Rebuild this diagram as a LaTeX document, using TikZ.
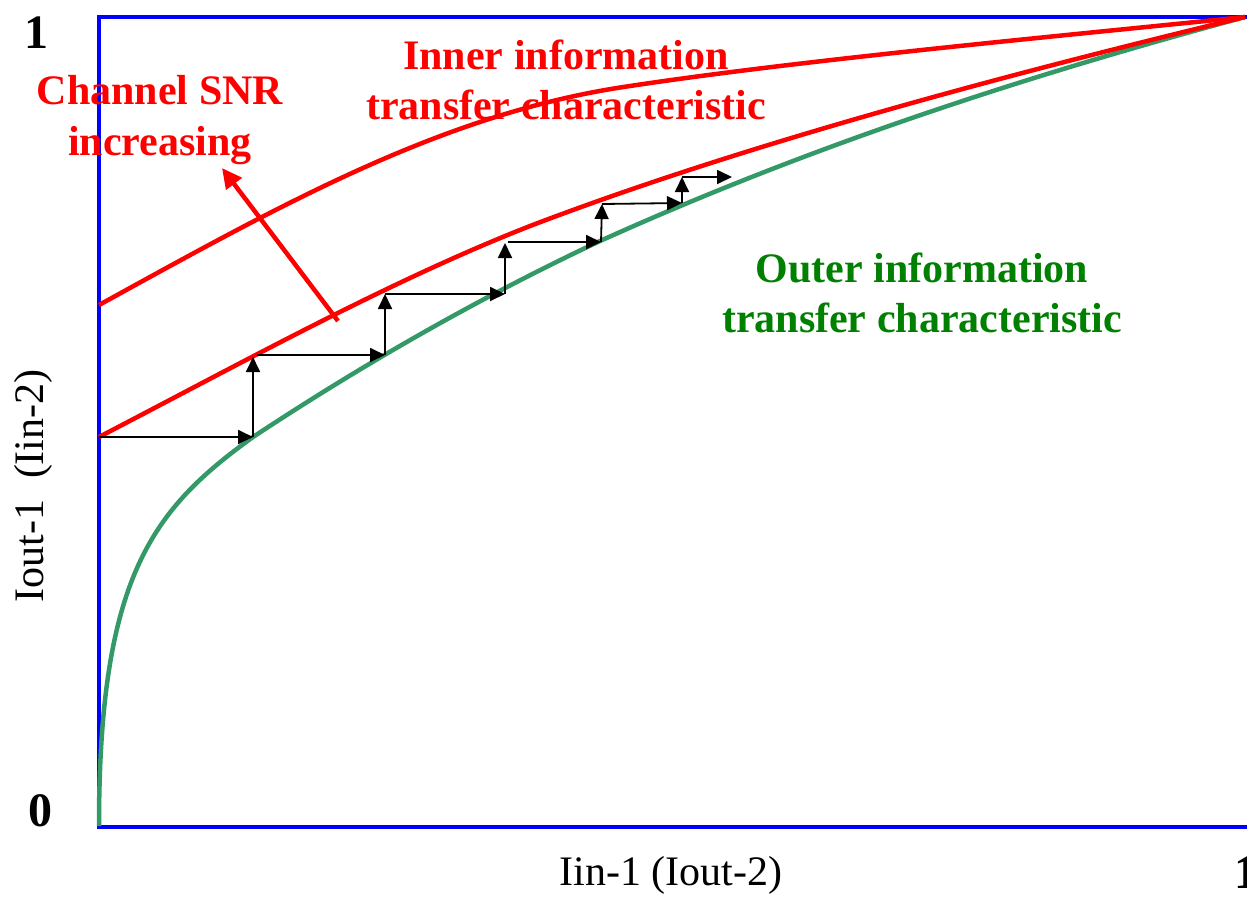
\documentclass[tikz,border=0pt]{standalone}
\usepackage{fontspec}
\setmainfont{Liberation Serif}
\usetikzlibrary{arrows.meta}
\definecolor{exitred}{RGB}{255,0,0}
\definecolor{axisblue}{RGB}{0,0,255}
\definecolor{curvegreen}{RGB}{51,153,102}
\definecolor{textgreen}{RGB}{0,128,0}
\tikzset{
  axisline/.style={draw=axisblue, line width=4.5pt},
  redcurve/.style={draw=exitred, line width=4.5pt},
  greencurve/.style={draw=curvegreen, line width=4.5pt},
  stairarrow/.style={draw=black, line width=1.8pt, -{Triangle[length=15pt,width=14pt]}},
  snrarrow/.style={draw=exitred, line width=4.5pt, -{Triangle[length=20pt,width=19pt]}},
  bigbold/.style={font=\bfseries\fontsize{42}{50}\selectfont, inner sep=0pt, anchor=base},
  digit/.style={font=\bfseries\fontsize{48}{56}\selectfont, inner sep=0pt, anchor=base},
  axislabel/.style={font=\fontsize{42}{48}\selectfont, inner sep=0pt, anchor=base}
}
\begin{document}
\begin{tikzpicture}[x=1pt,y=-1pt]
\useasboundingbox (0,0) rectangle (1247,898);
\fill[white] (0,0) rectangle (1247,898);

% axes box
\draw[axisline] (1250,17) -- (99,17) -- (99,827) -- (1250,827);

% outer (green) characteristic
\draw[greencurve] (99,826) .. controls (99,576) and (153,509) .. (253,437)
                           .. controls (368,361) and (485,295) .. (600,241)
                           .. controls (815,144) and (1030,75) .. (1245,17);
% inner (red) characteristics
\draw[redcurve] (99,437) .. controls (249,359) and (390,281) .. (530,226)
                         .. controls (750,142) and (1025,70) .. (1245,17);
\draw[redcurve] (99,305) .. controls (279,206) and (437,117) .. (617,88)
                         .. controls (790,61) and (1060,36) .. (1245,17);

% SNR arrow
\coordinate (snrA) at (338,321);
\coordinate (snrB) at (222,168);
\draw[snrarrow] (snrA) -- (snrB);

% staircase
\coordinate (p0) at (99,437);
\coordinate (p1) at (253,437);
\coordinate (p2) at (253,357);
\coordinate (p3) at (257,355);
\coordinate (p4) at (385,355);
\coordinate (p5) at (385,294);
\coordinate (p6) at (505,294);
\coordinate (p7) at (505,243);
\coordinate (p8) at (508,242);
\coordinate (p9) at (601,242);
\coordinate (p10) at (602,204);
\coordinate (p11) at (682,203);
\coordinate (p12) at (682,177);
\coordinate (p13) at (732,177);
\draw[stairarrow] (p0) -- (p1);
\draw[stairarrow] (p1) -- (p2);
\draw[stairarrow] (p3) -- (p4);
\draw[stairarrow] (p4) -- (p5);
\draw[stairarrow] (p5) -- (p6);
\draw[stairarrow] (p6) -- (p7);
\draw[stairarrow] (p8) -- (p9);
\draw[stairarrow] (p9) -- (p10);
\draw[stairarrow] (p10) -- (p11);
\draw[stairarrow] (p11) -- (p12);
\draw[stairarrow] (p12) -- (p13);

% labels
\node[bigbold, text=exitred] (inner1) at (566,69) {Inner information};
\node[bigbold, text=exitred] (inner2) at (566,119) {transfer characteristic};
\node[bigbold, text=exitred] (snr1) at (160,104) {Channel SNR};
\node[bigbold, text=exitred] (snr2) at (160,155) {increasing};
\node[bigbold, text=textgreen] (outer1) at (922,282) {Outer information};
\node[bigbold, text=textgreen] (outer2) at (922,332) {transfer characteristic};

\node[digit] (one) at (36,48) {1};
\node[digit] (zero) at (40,826) {0};
\node[digit, anchor=base west] (oneR) at (1234,888) {1};

\node[axislabel] (xlab) at (671,885) {Iin-1 (Iout-2)};
\node[axislabel, rotate=90] (ylab) at (43,486) {Iout-1\ \ (Iin-2)};
\end{tikzpicture}
\end{document}
